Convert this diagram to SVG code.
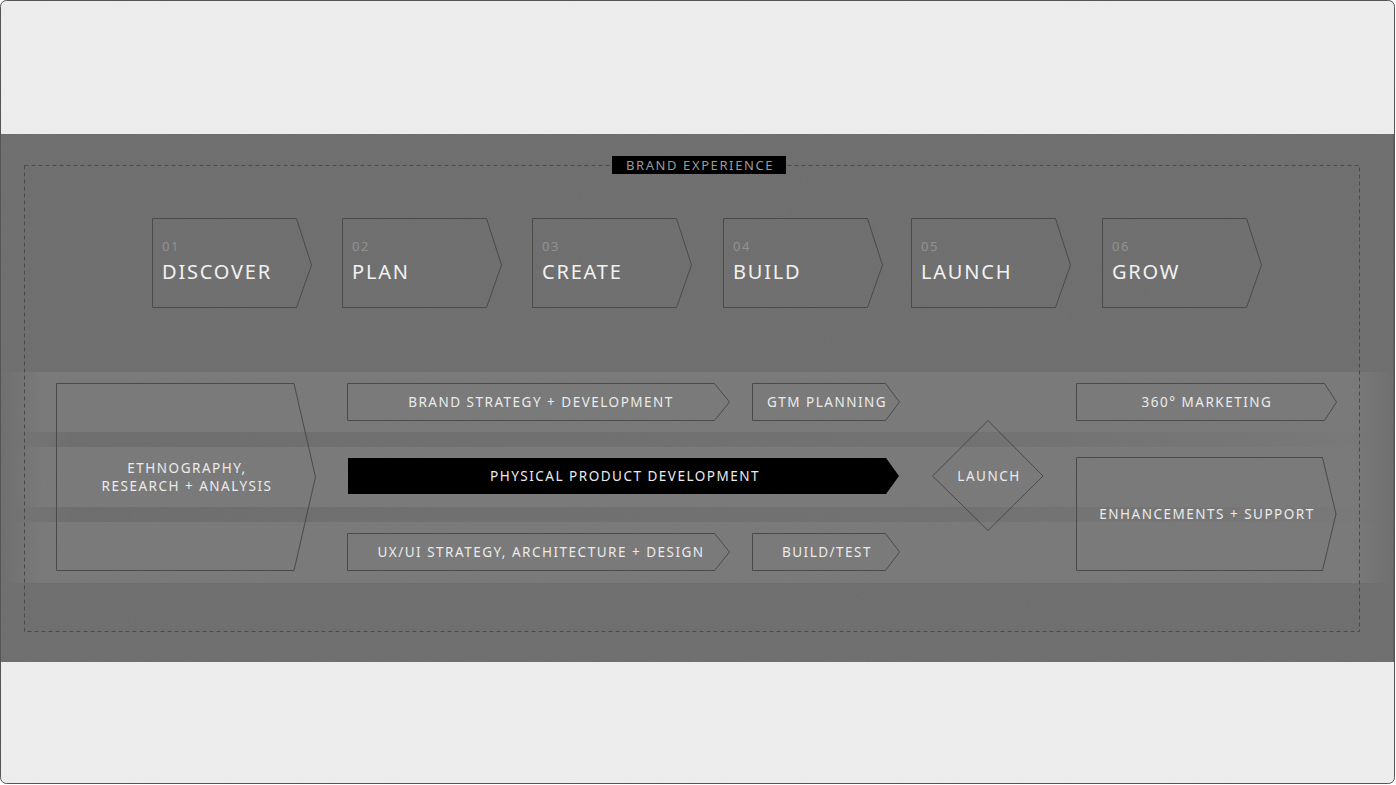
<svg xmlns="http://www.w3.org/2000/svg" width="1396" height="785" viewBox="0 0 1396 785">
<defs>
<linearGradient id="bandFade" x1="0" y1="0" x2="1" y2="0">
<stop offset="0" stop-color="#797979" stop-opacity="0"/>
<stop offset="0.03" stop-color="#797979" stop-opacity="1"/>
<stop offset="0.97" stop-color="#797979" stop-opacity="1"/>
<stop offset="1" stop-color="#797979" stop-opacity="0"/>
</linearGradient>
<linearGradient id="stripeFade" x1="0" y1="0" x2="1" y2="0">
<stop offset="0" stop-color="#6d6d6d" stop-opacity="0"/>
<stop offset="0.05" stop-color="#6d6d6d" stop-opacity="1"/>
<stop offset="0.7" stop-color="#6d6d6d" stop-opacity="0.7"/>
<stop offset="0.95" stop-color="#6d6d6d" stop-opacity="0.2"/>
<stop offset="1" stop-color="#6d6d6d" stop-opacity="0"/>
</linearGradient>
<filter id="grain" x="0" y="0" width="100%" height="100%">
<feTurbulence type="fractalNoise" baseFrequency="0.9" numOctaves="2" seed="3" result="n"/>
<feColorMatrix type="saturate" values="0"/>
<feComponentTransfer><feFuncA type="linear" slope="0.08"/></feComponentTransfer>
<feComposite in2="SourceGraphic" operator="in"/>
</filter>
</defs>
<style>
.frame{fill:#eeeeee;stroke:#555;stroke-width:1}
.box{fill:none;stroke:#4a4a4a;stroke-width:1}
.num{font-family:"Noto Sans","Liberation Sans",sans-serif;font-size:13px;fill:#929292;letter-spacing:1.5px}
.phase{font-family:"Noto Sans","Liberation Sans",sans-serif;font-size:20px;fill:#f2f2f2;letter-spacing:1.8px}
.lbl{font-family:"Noto Sans","Liberation Sans",sans-serif;font-size:13.5px;fill:#ebebeb;letter-spacing:1.5px;text-anchor:middle}
.hdr{font-family:"Noto Sans","Liberation Sans",sans-serif;font-size:13px;fill:#9a9a9a;letter-spacing:1.6px;text-anchor:middle}
</style>
<rect class="frame" x="0.5" y="0.5" width="1394" height="783" rx="6"/>
<rect x="1" y="134" width="1393" height="528" fill="#6e6e6e"/>
<rect x="1" y="372" width="1393" height="211" fill="url(#bandFade)"/>
<rect x="1" y="432" width="1393" height="15" fill="url(#stripeFade)"/>
<rect x="1" y="507" width="1393" height="15" fill="url(#stripeFade)"/>
<rect x="1" y="1" width="1393" height="782" fill="#888" filter="url(#grain)" opacity="0.6"/>
<line x1="1394" y1="134" x2="1394" y2="662" stroke="#555" stroke-width="1"/>

<g id="brand-experience">
<rect x="24.5" y="165.5" width="1335" height="466" fill="none" stroke="#4a4a4a" stroke-width="1" stroke-dasharray="4 3"/>
<rect x="612" y="156" width="174" height="18" fill="#000"/>
<text class="hdr" x="700" y="170">BRAND EXPERIENCE</text>
</g>

<g id="phase-discover">
<path class="box" d="M152.5 218.5H296.5L311.5 265L296.5 307.5H152.5Z"/>
<text class="num" x="162" y="251">01</text>
<text class="phase" x="162" y="279">DISCOVER</text>
</g>
<g id="phase-plan">
<path class="box" d="M342.5 218.5H486.5L501.5 265L486.5 307.5H342.5Z"/>
<text class="num" x="352" y="251">02</text>
<text class="phase" x="352" y="279">PLAN</text>
</g>
<g id="phase-create">
<path class="box" d="M532.5 218.5H676.5L691.5 265L676.5 307.5H532.5Z"/>
<text class="num" x="542" y="251">03</text>
<text class="phase" x="542" y="279">CREATE</text>
</g>
<g id="phase-build">
<path class="box" d="M723.5 218.5H867.5L882.5 265L867.5 307.5H723.5Z"/>
<text class="num" x="733" y="251">04</text>
<text class="phase" x="733" y="279">BUILD</text>
</g>
<g id="phase-launch">
<path class="box" d="M911.5 218.5H1055.5L1070.5 265L1055.5 307.5H911.5Z"/>
<text class="num" x="921" y="251">05</text>
<text class="phase" x="921" y="279">LAUNCH</text>
</g>
<g id="phase-grow">
<path class="box" d="M1102.5 218.5H1246.5L1261.5 265L1246.5 307.5H1102.5Z"/>
<text class="num" x="1112" y="251">06</text>
<text class="phase" x="1112" y="279">GROW</text>
</g>

<g id="ethnography">
<path class="box" d="M56.5 383.5H294L315.5 477L294 570.5H56.5Z"/>
<text class="lbl" x="187" y="473">ETHNOGRAPHY,</text>
<text class="lbl" x="187" y="491">RESEARCH + ANALYSIS</text>
</g>
<g id="brand-strategy">
<path class="box" d="M347.5 383.5H714.5L729.5 402L714.5 420.5H347.5Z"/>
<text class="lbl" x="541" y="407">BRAND STRATEGY + DEVELOPMENT</text>
</g>
<g id="gtm-planning">
<path class="box" d="M752.5 383.5H885.5L899.5 402L885.5 420.5H752.5Z"/>
<text class="lbl" x="827" y="407">GTM PLANNING</text>
</g>
<g id="physical-product">
<path d="M348 458H886L899 476L886 494H348Z" fill="#000"/>
<text class="lbl" x="625" y="481">PHYSICAL PRODUCT DEVELOPMENT</text>
</g>
<g id="ux-ui">
<path class="box" d="M347.5 533.5H714.5L729.5 552L714.5 570.5H347.5Z"/>
<text class="lbl" x="541" y="557">UX/UI STRATEGY, ARCHITECTURE + DESIGN</text>
</g>
<g id="build-test">
<path class="box" d="M752.5 533.5H885.5L899.5 552L885.5 570.5H752.5Z"/>
<text class="lbl" x="827" y="557">BUILD/TEST</text>
</g>
<g id="launch-milestone">
<path class="box" d="M988 420.5L1043 476L988 530.5L932.5 476Z"/>
<text class="lbl" x="989" y="481">LAUNCH</text>
</g>
<g id="marketing">
<path class="box" d="M1076.5 383.5H1324.5L1336.5 402L1324.5 420.5H1076.5Z"/>
<text class="lbl" x="1207" y="407">360° MARKETING</text>
</g>
<g id="enhancements">
<path class="box" d="M1076.5 457.5H1322.5L1336 514L1322.5 570.5H1076.5Z"/>
<text class="lbl" x="1207" y="519">ENHANCEMENTS + SUPPORT</text>
</g>
</svg>
